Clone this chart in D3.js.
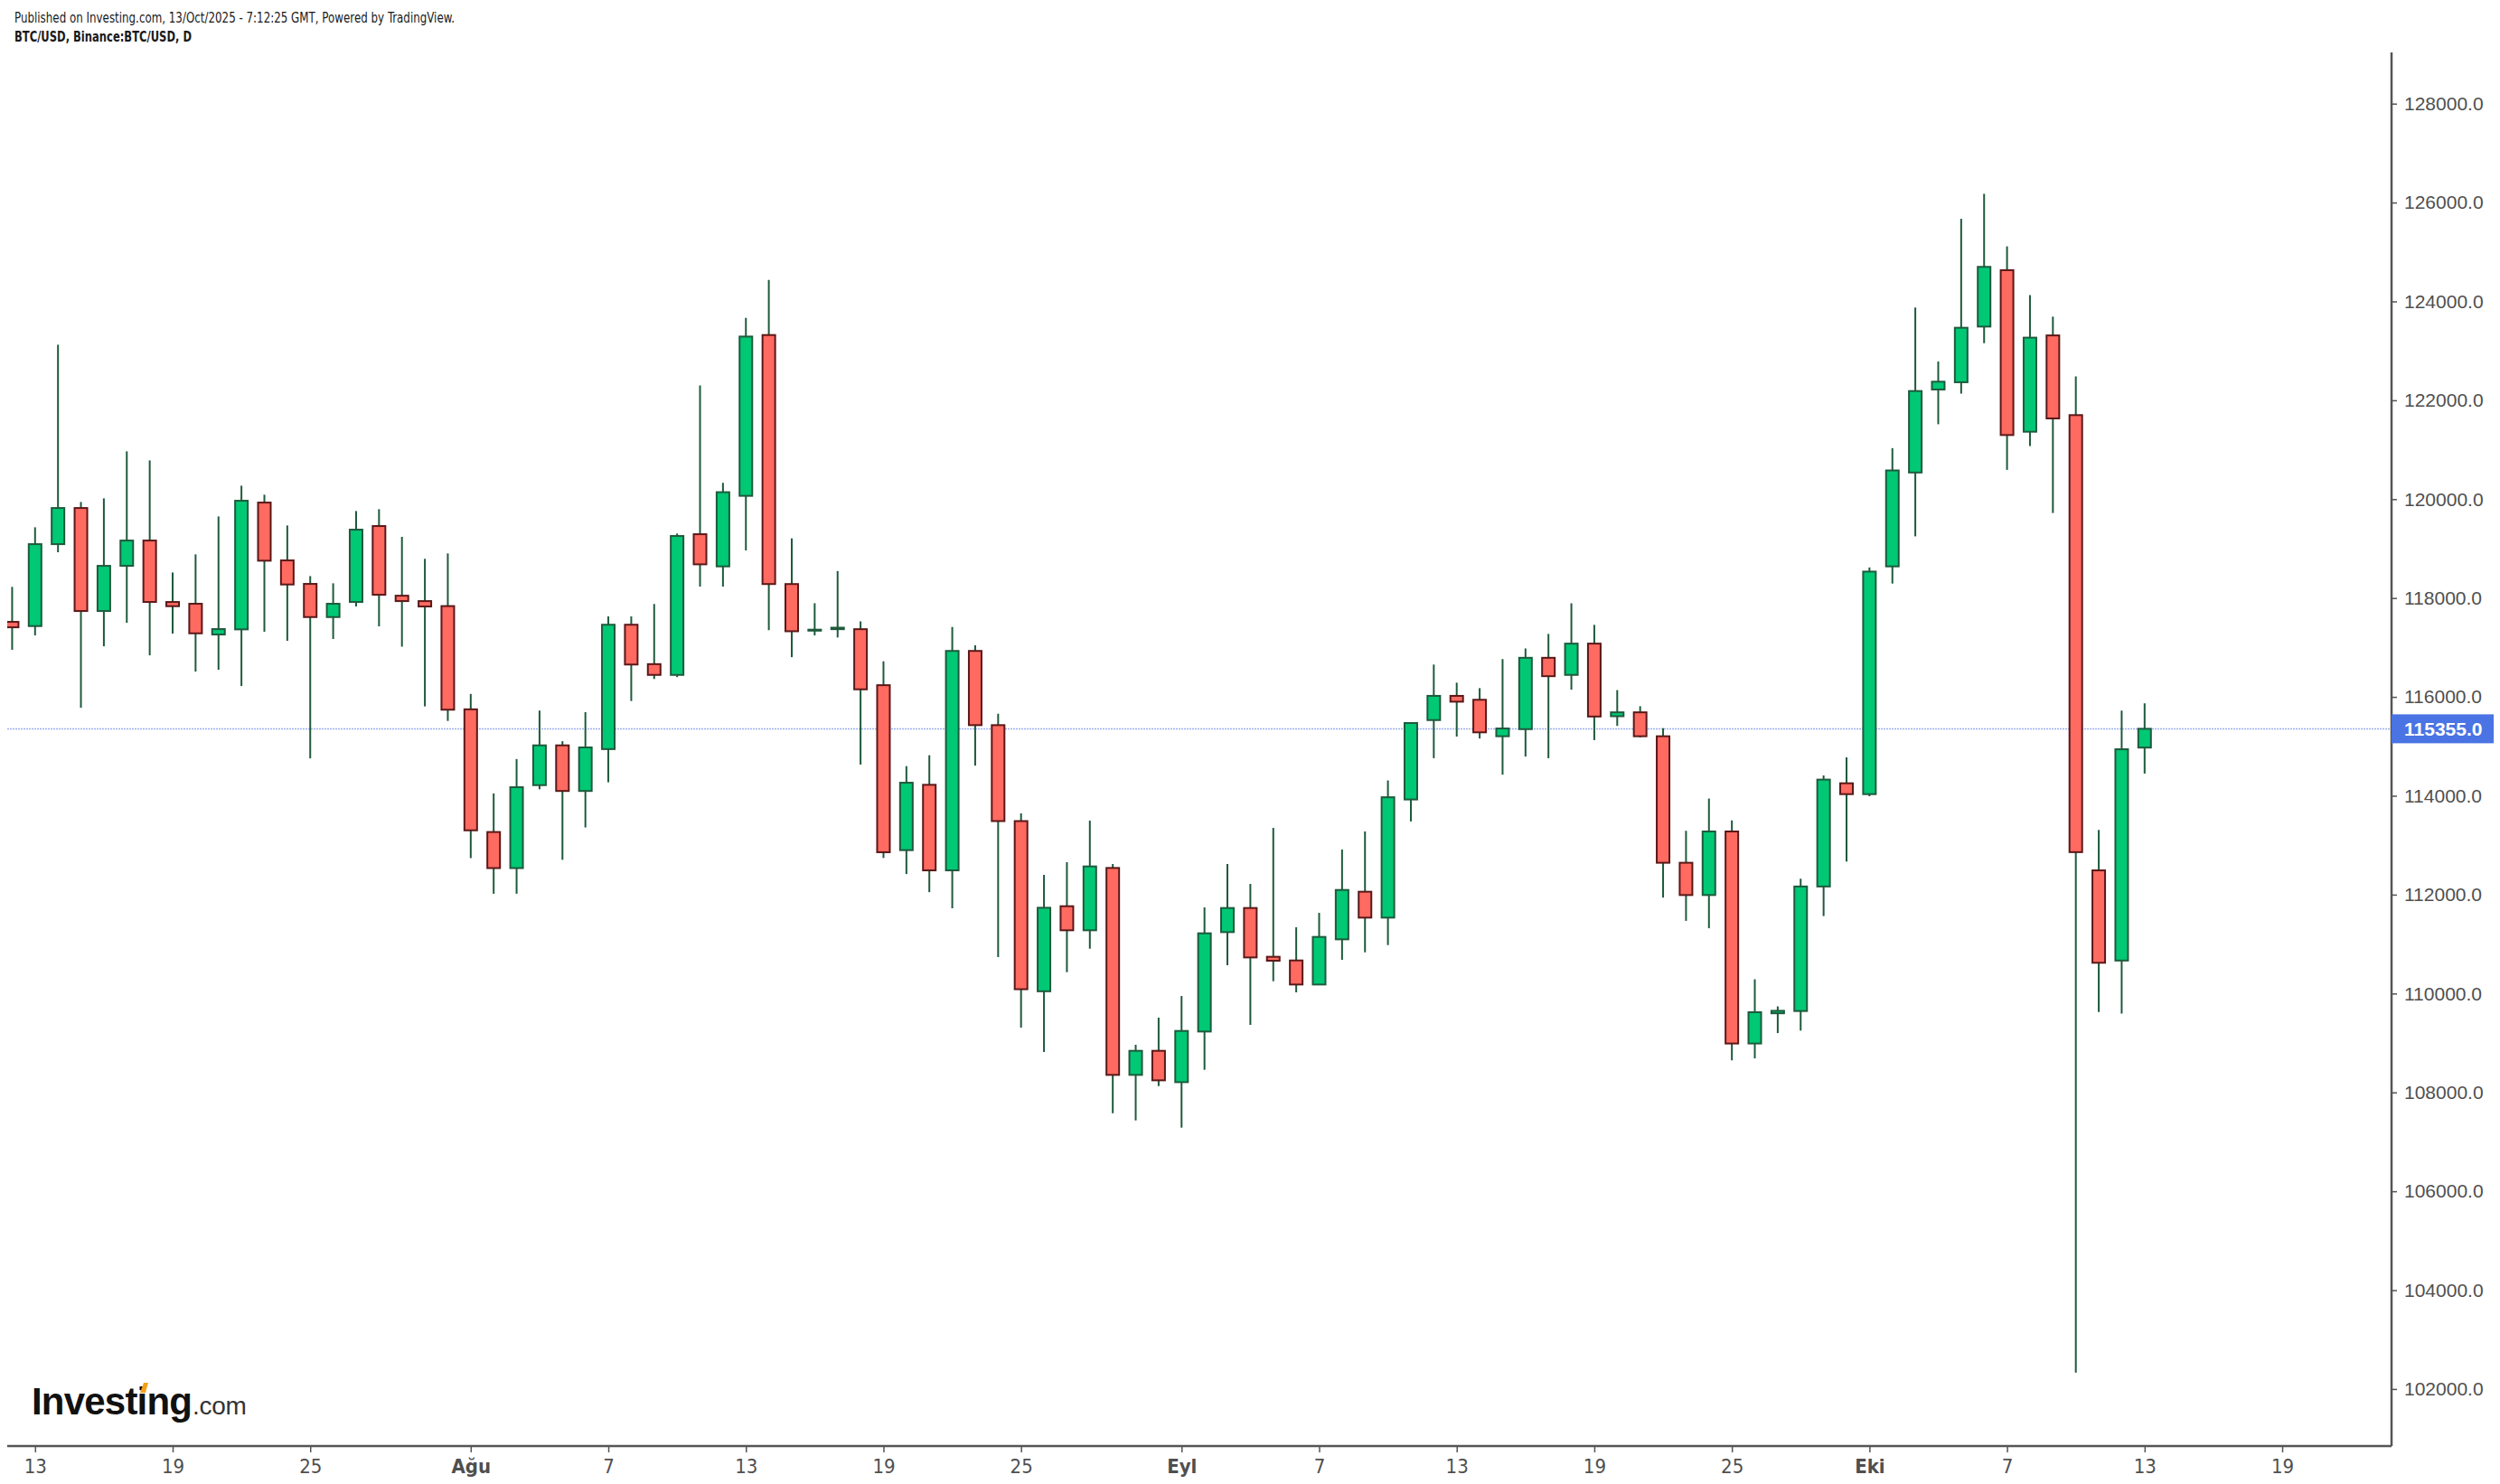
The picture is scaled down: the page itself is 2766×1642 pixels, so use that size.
<!DOCTYPE html>
<html>
<head>
<meta charset="utf-8">
<script src="https://cdn.jsdelivr.net/npm/d3@7"></script>
<style>
  html, body { margin: 0; padding: 0; background: #fff; }
  svg { display: block; }
  .narrow { font-family: "Liberation Sans Narrow", "Arial Narrow", "DejaVu Sans Condensed", sans-serif; }
  .sans { font-family: "Liberation Sans", Arial, sans-serif; }
</style>
</head>
<body>
<svg id="chart" width="2766" height="1642"></svg>
<script>
// daily BTC/USD candles, 12 Jul - 13 Oct 2025
const dates = d3.timeDay.range(new Date(2025, 6, 12), new Date(2025, 9, 14));

const open = [
  117518, 117433, 119090, 119821, 117737, 118651, 119163, 117920, 117884, 117262,
  117366, 119931, 118761, 118286, 117615, 117920, 119456, 118047, 117938, 117837,
  115749, 113267, 112537, 114215, 115020, 114097, 114944, 117460, 116663, 116445,
  119291, 118640, 120067, 123320, 118283, 117340, 117370, 117370, 116237, 112900,
  114222, 112491, 116930, 115429, 113488, 110045, 111766, 111279, 112540, 108354,
  108841, 108207, 109231, 111242, 111730, 110743, 110669, 110182, 111096, 112059,
  111535, 113925, 115531, 116021, 115942, 115204, 115348, 116791, 116445, 117078,
  115609, 115688, 115204, 112645, 111992, 113278, 108989, 109600, 109646, 112165,
  114253, 114033, 118640, 120539, 122218, 122365, 123491, 124632, 121364, 123312,
  121700, 112491, 110667, 114975
];
const high = [
  118225, 119431, 123124, 119943, 120016, 120967, 120784, 118517, 118883, 119651,
  120272, 120090, 119468, 118444, 118298, 119760, 119797, 119238, 118793, 118902,
  116060, 114047, 114743, 115724, 115104, 115691, 117628, 117628, 117879, 119305,
  122300, 120330, 123667, 124433, 119207, 117895, 118546, 117528, 116720, 114600,
  114820, 117412, 117045, 115660, 113645, 112400, 112656, 113497, 112620, 108963,
  109512, 109950, 111742, 112620, 112217, 113351, 111340, 111632, 112912, 113278,
  114310, 115472, 116654, 116288, 116177, 116765, 116980, 117274, 117894, 117457,
  116138, 115812, 115368, 113291, 113944, 113500, 110288, 109740, 112322, 114411,
  114778, 118619, 121032, 123876, 122785, 125671, 126176, 125113, 124128, 123692,
  122483, 113308, 115725, 115870
];
const low = [
  116951, 117244, 118926, 115781, 117024, 117500, 116841, 117280, 116512, 116549,
  116220, 117317, 117134, 114757, 117171, 117829, 117427, 117016, 115808, 115514,
  112739, 112018, 112018, 114131, 112705, 113359, 114273, 115917, 116362, 116400,
  118231, 118231, 118965, 117349, 116804, 117244, 117202, 114631, 112742, 112417,
  112050, 111725, 114610, 110738, 109311, 108817, 110432, 110907, 107580, 107433,
  108128, 107287, 108457, 110572, 109365, 110249, 110024, 110182, 110682, 110834,
  110980, 113481, 114760, 115198, 115159, 114427, 114793, 114760, 116145, 115126,
  115413, 115180, 111940, 111470, 111320, 108649, 108688, 109200, 109250, 111567,
  112669, 113991, 118293, 119248, 121515, 122134, 123155, 120592, 121074, 119720,
  102330, 109626, 109593, 114449
];
const close = [
  117408, 119090, 119821, 117737, 118651, 119163, 117920, 117835, 117286, 117372,
  119968, 118755, 118274, 117615, 117884, 119383, 118066, 117938, 117829, 115741,
  113301, 112537, 114173, 115020, 114097, 114978, 117460, 116655, 116445, 119255,
  118682, 120141, 123289, 118283, 117328, 117360, 117400, 116153, 112858, 114264,
  112491, 116930, 115429, 113488, 110087, 111735, 111279, 112571, 108354, 108841,
  108244, 109243, 111218, 111730, 110730, 110663, 110182, 111145, 112095, 111535,
  113970, 115472, 116021, 115903, 115283, 115361, 116791, 116419, 117078, 115603,
  115688, 115204, 112645, 111992, 113278, 108989, 109622, 109650, 112165, 114327,
  114033, 118535, 120581, 122187, 122376, 123467, 124699, 121297, 123267, 121633,
  112860, 110622, 114941, 115355
];

const lastPrice = 115355;

const priceTicks = [102000, 104000, 106000, 108000, 110000, 112000, 114000,
                    116000, 118000, 120000, 122000, 124000, 126000, 128000];

const dateTicks = ["2025-07-13", "2025-07-19", "2025-07-25", "2025-08-01", "2025-08-07",
                   "2025-08-13", "2025-08-19", "2025-08-25", "2025-09-01", "2025-09-07",
                   "2025-09-13", "2025-09-19", "2025-09-25", "2025-10-01", "2025-10-07",
                   "2025-10-13", "2025-10-19"];
const dateTickLabels = ["13", "19", "25", "Ağu", "7", "13", "19", "25", "Eyl", "7",
                        "13", "19", "25", "Eki", "7", "13", "19"];
const monthLabels = ["Ağu", "Eyl", "Eki"];

// ---- layout ----
const plot = { left: 8, right: 2646, top: 58, bottom: 1600 };
const axisColor = "#555555";

const svg = d3.select("#chart");

const parseDay = d3.timeParse("%Y-%m-%d");

const x = d3.scaleTime()
  .domain([new Date(2025, 6, 13), new Date(2025, 9, 13)])
  .range([38.8, 2372.8]);

const y = d3.scaleLinear()
  .domain([102000, 128000])
  .range([1536.9, 114.7]);

svg.append("defs").append("clipPath")
  .attr("id", "plot-clip")
  .append("rect")
  .attr("x", plot.left)
  .attr("y", plot.top)
  .attr("width", plot.right - plot.left)
  .attr("height", plot.bottom - plot.top);

// header
svg.append("text")
  .attr("class", "narrow")
  .attr("x", 16).attr("y", 25)
  .attr("font-size", 15)
  .attr("fill", "#1a1a1a")
  .attr("textLength", 487)
  .attr("lengthAdjust", "spacingAndGlyphs")
  .text("Published on Investing.com, 13/Oct/2025 - 7:12:25 GMT, Powered by TradingView.");

svg.append("text")
  .attr("class", "narrow")
  .attr("x", 16).attr("y", 46)
  .attr("font-size", 15)
  .attr("font-weight", "bold")
  .attr("fill", "#1a1a1a")
  .attr("textLength", 196)
  .attr("lengthAdjust", "spacingAndGlyphs")
  .text("BTC/USD, Binance:BTC/USD, D");

// last price line
svg.append("line")
  .attr("x1", plot.left).attr("x2", plot.right)
  .attr("y1", y(lastPrice)).attr("y2", y(lastPrice))
  .attr("stroke", "#9db0f0")
  .attr("stroke-width", 1.5)
  .attr("stroke-dasharray", "2,1");

// candles
const candles = dates.map((d, i) => ({ date: d, o: open[i], h: high[i], l: low[i], c: close[i] }));
const up = d => d.c >= d.o;

const cg = svg.append("g").attr("clip-path", "url(#plot-clip)");

cg.selectAll("line.wick")
  .data(candles)
  .join("line")
  .attr("class", "wick")
  .attr("x1", d => x(d.date)).attr("x2", d => x(d.date))
  .attr("y1", d => y(d.h)).attr("y2", d => y(d.l))
  .attr("stroke", "#1e5a3c")
  .attr("stroke-width", 2);

cg.selectAll("rect.body")
  .data(candles)
  .join("rect")
  .attr("class", "body")
  .attr("x", d => x(d.date) - 7)
  .attr("width", 14)
  .attr("y", d => y(Math.max(d.o, d.c)))
  .attr("height", d => Math.max(1, Math.abs(y(d.o) - y(d.c))))
  .attr("fill", d => up(d) ? "#00c875" : "#ff6a61")
  .attr("stroke", d => up(d) ? "#1e5a3c" : "#5a1818")
  .attr("stroke-width", 2);

// y axis (right)
const yAxis = svg.append("g")
  .attr("class", "sans")
  .attr("transform", `translate(${plot.right},0)`)
  .call(d3.axisRight(y)
    .tickValues(priceTicks)
    .tickSize(6)
    .tickSizeOuter(0)
    .tickPadding(8)
    .tickFormat(d => d.toFixed(1)));
yAxis.select(".domain").remove();
yAxis.selectAll(".tick line").attr("stroke", axisColor).attr("stroke-width", 1.5);
yAxis.selectAll(".tick text")
  .attr("font-size", 21)
  .attr("fill", "#4f4f4f");

svg.append("line")
  .attr("x1", plot.right).attr("x2", plot.right)
  .attr("y1", plot.top).attr("y2", plot.bottom)
  .attr("stroke", axisColor)
  .attr("stroke-width", 2.5);

// last price label
const pl = svg.append("g").attr("transform", `translate(${plot.right},${y(lastPrice)})`);
pl.append("rect")
  .attr("x", 0).attr("y", -16)
  .attr("width", 113).attr("height", 32)
  .attr("fill", "#4a73e3");
pl.append("text")
  .attr("class", "sans")
  .attr("x", 14).attr("y", 0)
  .attr("dy", "0.36em")
  .attr("font-size", 21)
  .attr("font-weight", "bold")
  .attr("fill", "#ffffff")
  .text(lastPrice.toFixed(1));

// x axis (bottom)
const xAxis = svg.append("g")
  .attr("class", "narrow")
  .attr("transform", `translate(0,${plot.bottom})`)
  .call(d3.axisBottom(x)
    .tickValues(dateTicks.map(parseDay))
    .tickSize(7)
    .tickSizeOuter(0)
    .tickPadding(7)
    .tickFormat((d, i) => dateTickLabels[i]));
xAxis.select(".domain").remove();
xAxis.selectAll(".tick line").attr("stroke", axisColor).attr("stroke-width", 1.5);
xAxis.selectAll(".tick text")
  .attr("font-size", 22)
  .attr("fill", "#4f4f4f")
  .attr("font-weight", (d, i) => monthLabels.includes(dateTickLabels[i]) ? "bold" : "normal");

svg.append("line")
  .attr("x1", plot.left).attr("x2", plot.right)
  .attr("y1", plot.bottom).attr("y2", plot.bottom)
  .attr("stroke", axisColor)
  .attr("stroke-width", 2.5);

// Investing.com logo, one text element so the parts sit side by side
const logo = svg.append("text")
  .attr("class", "sans")
  .attr("y", 1565);
logo.append("tspan")
  .attr("x", 35)
  .attr("font-size", 42)
  .attr("font-weight", "bold")
  .attr("letter-spacing", -0.8)
  .attr("fill", "#111111")
  .text("Investing");
logo.append("tspan")
  .attr("x", 213)
  .attr("font-size", 28)
  .attr("letter-spacing", -0.3)
  .attr("fill", "#333333")
  .text(".com");
svg.append("path")
  .attr("d", "M155,1541 L159,1530 L164,1530 L161,1541 Z")
  .attr("fill", "#f5a01a");
</script>
</body>
</html>
